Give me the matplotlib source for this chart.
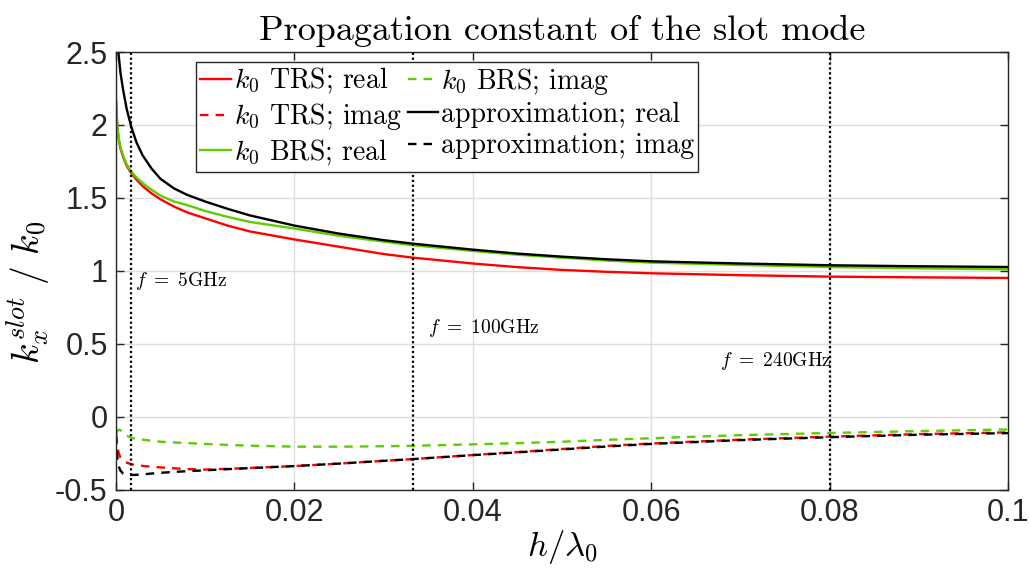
import numpy as np
import matplotlib
matplotlib.use("Agg")
import matplotlib.pyplot as plt

plt.rcParams['mathtext.fontset'] = 'cm'
plt.rcParams['font.family'] = ['Liberation Sans', 'DejaVu Sans']
plt.rcParams['axes.unicode_minus'] = False

# h / lambda_0 sample points
x = [0, 0.00015, 0.0003, 0.0005, 0.0008, 0.0012, 0.0017, 0.0023, 0.003, 0.004,
     0.005, 0.0065, 0.008, 0.01, 0.0125, 0.015, 0.02, 0.025, 0.03, 0.0333,
     0.04, 0.045, 0.05, 0.055, 0.06, 0.07, 0.08, 0.09, 0.1]

# k_x^slot / k0 values
trs_real = [2.17, 1.99, 1.90, 1.84, 1.78, 1.72, 1.67, 1.625, 1.58, 1.53,
            1.49, 1.44, 1.40, 1.36, 1.31, 1.27, 1.215, 1.165, 1.115, 1.09,
            1.05, 1.025, 1.006, 0.993, 0.983, 0.97, 0.96, 0.955, 0.951]
trs_imag = [-0.12, -0.20, -0.25, -0.28, -0.30, -0.315, -0.326, -0.333, -0.338, -0.343,
            -0.348, -0.354, -0.36, -0.363, -0.358, -0.352, -0.339, -0.322, -0.303, -0.291,
            -0.263, -0.243, -0.222, -0.201, -0.184, -0.158, -0.137, -0.12, -0.108]
brs_real = [2.17, 1.99, 1.91, 1.85, 1.79, 1.73, 1.68, 1.64, 1.60, 1.555,
            1.515, 1.475, 1.45, 1.41, 1.37, 1.335, 1.29, 1.24, 1.20, 1.175,
            1.136, 1.11, 1.09, 1.07, 1.056, 1.04, 1.026, 1.017, 1.01]
brs_imag = [-0.12, -0.10, -0.09, -0.093, -0.11, -0.13, -0.145, -0.152, -0.158, -0.166,
            -0.172, -0.177, -0.181, -0.187, -0.194, -0.199, -0.206, -0.206, -0.203, -0.20,
            -0.19, -0.182, -0.172, -0.159, -0.148, -0.127, -0.112, -0.099, -0.088]
app_real = [3.4, 2.75, 2.48, 2.36, 2.24, 2.11, 1.99, 1.88, 1.79, 1.70,
            1.63, 1.565, 1.52, 1.475, 1.425, 1.38, 1.31, 1.255, 1.21, 1.186,
            1.145, 1.118, 1.097, 1.079, 1.065, 1.05, 1.038, 1.031, 1.026]
app_imag = [-0.13, -0.28, -0.34, -0.37, -0.39, -0.398, -0.40, -0.399, -0.396, -0.39,
            -0.385, -0.379, -0.374, -0.368, -0.36, -0.353, -0.339, -0.322, -0.303, -0.291,
            -0.264, -0.245, -0.225, -0.205, -0.187, -0.161, -0.141, -0.124, -0.113]

labels = [r'$k_0$ TRS; real', r'$k_0$ TRS; imag', r'$k_0$ BRS; real',
          r'$k_0$ BRS; imag', 'approximation; real', 'approximation; imag']

# frequency markers (h = 0.1 mm)
f_pos = [0.001667, 0.03333, 0.08]
f_text = [r'$f\ =\ 5\mathrm{GHz}$', r'$f\ =\ 100\mathrm{GHz}$', r'$f\ =\ 240\mathrm{GHz}$']
f_text_xy = [(0.0021, 0.93, 'left'), (0.035, 0.61, 'left'), (0.0802, 0.38, 'right')]

red = '#ff0000'
green = '#5ecc00'
dash = (0, (3.6, 3.0))
cm_font = ['cmr10', 'DejaVu Serif']

fig = plt.figure(figsize=(10.3, 5.78), dpi=100)
ax = fig.add_axes([0.1126, 0.153, 0.866, 0.757])

series = [(trs_real, red, '-'), (trs_imag, red, dash), (brs_real, green, '-'),
          (brs_imag, green, dash), (app_real, 'black', '-'), (app_imag, 'black', dash)]
for (y, c, ls), lab in zip(series, labels):
    ax.plot(x, y, color=c, lw=1.7, ls=ls, label=lab)

for xp in f_pos:
    ax.axvline(xp, color='black', ls=(0, (1, 1.2)), lw=1.6)
for txt, (tx, ty, ha) in zip(f_text, f_text_xy):
    ax.text(tx, ty, txt, fontsize=14, ha=ha, va='center')

ax.set_xlim(0, 0.1)
ax.set_ylim(-0.5, 2.5)
ax.set_xticks([0, 0.02, 0.04, 0.06, 0.08, 0.1])
ax.set_xticklabels(['0', '0.02', '0.04', '0.06', '0.08', '0.1'])
ax.set_yticks([-0.5, 0, 0.5, 1, 1.5, 2, 2.5])
ax.set_yticklabels(['-0.5', '0', '0.5', '1', '1.5', '2', '2.5'])
ax.tick_params(direction='in', top=True, right=True, length=6, width=1,
               labelsize=22, colors='#262626', pad=6)
for s in ax.spines.values():
    s.set_color('#262626')
    s.set_linewidth(1)
ax.grid(True, color='#dedede', lw=1)
ax.set_axisbelow(True)

ax.set_title('Propagation constant of the slot mode', fontsize=26, pad=9, family=cm_font)
ax.set_xlabel(r'$h/\lambda_0$', fontsize=25, labelpad=0)
ax.set_ylabel(r'$k_x^{slot}\ /\ k_0$', fontsize=27, labelpad=2)
ax.yaxis.label.set_y(0.45)

leg = ax.legend(ncol=2, loc='upper left', bbox_to_anchor=(0.09, 0.978), borderaxespad=0,
                prop={'family': cm_font, 'size': 20}, handlelength=1.1, handletextpad=0.1,
                columnspacing=0.2, labelspacing=0.18, borderpad=0.15, fancybox=False,
                framealpha=1, edgecolor='#262626')
leg.get_frame().set_linewidth(1)

fig.savefig('out.png', dpi=100)
